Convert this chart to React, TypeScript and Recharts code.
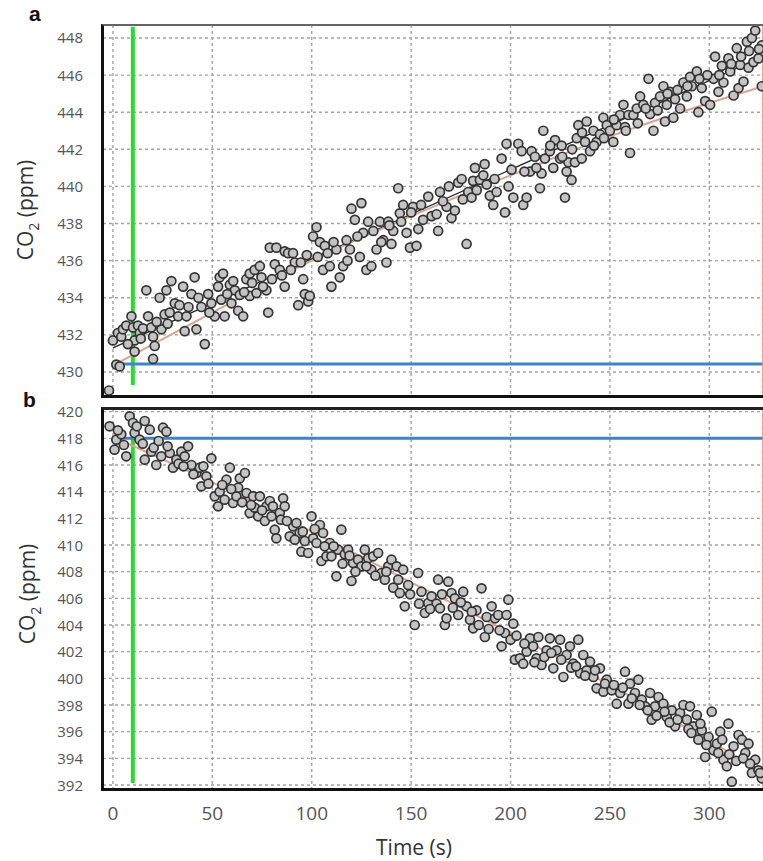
import React from 'react';
import { ComposedChart, Scatter, Line, XAxis, YAxis, CartesianGrid, ReferenceLine } from 'recharts';

const timeTicks = [0, 50, 100, 150, 200, 250, 300];
const ticksA = [430, 432, 434, 436, 438, 440, 442, 444, 446, 448];
const ticksB = [392, 394, 396, 398, 400, 402, 404, 406, 408, 410, 412, 414, 416, 418, 420];

// Panel a: measured CO2 (ppm) vs time (s)
const scatterA: number[][] = [
  [-2, 429.0], [0, 431.7], [1.7, 430.4], [2.5, 432.1], [3.4, 430.3], [4.2, 431.9], [5, 432.3], [6.7, 432.5],
  [9.3, 433.0], [10.1, 432.4], [10.9, 431.7], [10.9, 431.1], [12.6, 432.5], [13.5, 432.1], [15.1, 432.35],
  [16.8, 434.4], [17.7, 433.0], [19.3, 432.4], [20.2, 431.9], [21, 431.4], [20.2, 430.7], [23.5, 434.0],
  [24.4, 432.3], [26, 433.1], [26.9, 434.4], [29.4, 434.9], [28.6, 433.2], [31.1, 433.7], [32.8, 433.0],
  [35.3, 434.6], [36.1, 432.2], [37, 433.0], [39.5, 434.2], [41.1, 435.1], [42, 432.3], [44.5, 433.5],
  [46.2, 431.5], [47.9, 434.2], [49.5, 433.7], [51.2, 433.0], [52.9, 434.6], [53.7, 435.1], [55.4, 435.3],
  [56.2, 433.0], [58.8, 434.7], [59.6, 433.7], [61.3, 434.4], [63, 433.3], [63.8, 434.15], [65.5, 433.0],
  [67.1, 435.0], [68.8, 435.3], [68.8, 434.1], [71.3, 435.5], [72.2, 434.25], [73.9, 435.7], [74.7, 435.1],
  [77.2, 434.4], [78.1, 433.2], [78.9, 436.7], [81.4, 435.8], [82.2, 436.7], [83.9, 435.5], [86.4, 434.6],
  [86.4, 436.5], [88.1, 436.4], [90.6, 436.4], [91.5, 435.9], [93.2, 433.6], [95.7, 435.0], [96.5, 434.2],
  [98.2, 433.8], [99, 434.1], [100.7, 437.3], [102.4, 437.8], [104.1, 437.0], [105.7, 435.5], [106.6, 436.8],
  [109.1, 435.7], [109.9, 434.6], [112.4, 436.6], [114.1, 435.1], [115.8, 435.7], [117.5, 437.1], [119.2, 436.6],
  [120, 438.8], [121.7, 438.2], [124.2, 436.2], [125, 439.1], [125.9, 437.5], [127.5, 435.5], [128.4, 438.1],
  [130, 435.7], [132.6, 436.6], [134.3, 438.1], [136, 437.1], [137.6, 435.9], [138.5, 438.1], [140.1, 436.9],
  [141, 437.6], [143.5, 439.9], [144.3, 438.55], [146, 439.0], [147.7, 437.5], [149.4, 436.7], [151, 438.9],
  [152.7, 436.8], [153.6, 437.7], [156, 438.2], [158.6, 439.45], [160.3, 438.4],
  [162.8, 438.5], [163.6, 437.6], [164.5, 439.7], [167.8, 438.9], [170.3, 438.3], [172, 438.7], [173.7, 440.2],
  [175.4, 440.4], [177.9, 436.9], [178.7, 439.7], [180.4, 439.4], [181.2, 440.3], [182.1, 441.0], [184.6, 440.35],
  [186.3, 440.6], [188, 440.1], [189.6, 439.5], [191.3, 439.0], [193, 439.7], [195.5, 441.5], [197.2, 438.6],
  [198, 442.3], [200.5, 440.9], [201.4, 439.4], [203.9, 442.3], [205.6, 441.9], [206.4, 439.0], [208.1, 439.4],
  [209.8, 440.8], [210.6, 441.9], [212.3, 441.6], [214.8, 439.9], [215.6, 440.7], [216.5, 443.0], [217.3, 441.5],
  [219.8, 441.9], [221.5, 441.0], [222.4, 442.5], [224.9, 441.5], [225.7, 442.2], [227.4, 439.4], [228.2, 440.8],
  [229.1, 441.3], [230.7, 440.35], [232.4, 441.3], [233.3, 442.6], [234.1, 443.3], [235.8, 441.5], [237.5, 442.4],
  [238.3, 443.5], [240, 441.9], [241.7, 443.0], [243.3, 442.4], [245, 442.8], [246.7, 443.7], [248.4, 443.3],
  [250, 443.0], [251.7, 442.4], [253.4, 443.3], [255.1, 443.85], [256.8, 444.4], [257.6, 443.2], [259.3, 443.85],
  [260.1, 441.8], [261.8, 443.85], [263.5, 444.2], [265.2, 444.85], [266.8, 444.4], [269.4, 445.8], [270.2, 443.9],
  [271.9, 443.0], [272.7, 444.5], [275.2, 444.85], [276.9, 445.4], [277.7, 443.5], [278.6, 444.4], [280.3, 445.1],
  [281.9, 443.7], [282.8, 444.7], [285.3, 444.2], [287, 445.6], [288.7, 444.85], [290.3, 445.9], [291.2, 445.4],
  [293.7, 446.2], [294.5, 444.0], [296.2, 445.3], [297.9, 444.6], [300.4, 444.4], [302.1, 445.8], [302.9, 447.0],
  [304.6, 445.1], [306.3, 446.5], [307.1, 445.6], [309.6, 446.9], [310.5, 446.2], [312.2, 444.9], [313.8, 447.45],
  [314.7, 445.3], [315.5, 446.55], [317.2, 445.65], [318.9, 447.8], [319.7, 446.4], [321.4, 448.0], [322.2, 446.7],
  [323.1, 448.4], [324.7, 446.9], [326.4, 447.6], [326.4, 445.4],
  // overlapping points along the dense band
  [7.5, 431.5], [14, 431.8], [22, 432.7], [27.5, 432.6], [33.5, 433.6], [38, 433.5], [43, 434.0], [48.5, 433.2],
  [54.5, 433.9], [57.5, 434.2], [60.5, 434.9], [66, 434.3], [70, 434.8], [75.5, 434.6], [80, 435.0], [85, 435.2],
  [89.5, 435.5], [94.5, 435.9], [97.5, 436.3], [103, 436.2], [108, 436.4], [111, 437.0], [118, 436.0], [123, 437.3],
  [131, 437.6], [135, 437.0], [139, 437.9], [145, 438.1], [150, 438.6], [155, 439.0], [166, 439.2], [169, 440.0],
  [176, 439.3], [183, 439.8], [187, 441.2], [192, 440.4], [199, 440.0], [207, 440.8], [213, 441.0], [220, 442.2],
  [226, 441.6], [231, 442.0], [236, 442.9], [242, 442.2], [247, 442.6], [252, 443.6], [258, 443.0], [264, 443.4],
  [268, 444.2], [274, 444.1], [279, 445.0], [284, 445.2], [289, 445.4], [295, 445.8], [299, 446.0], [305, 446.0],
  [311, 446.6], [316, 447.0], [320, 447.3], [325, 447.4],
];

// Panel a: curved fit (orange) and straight fit (black)
const fitCurveA: number[][] = [[0, 430.35], [50, 433.2], [100, 436.0], [150, 438.4], [200, 440.6], [250, 442.7], [300, 444.5], [327, 445.4]];
const fitLinearA: number[][] = [[0, 431.3], [327, 447.0]];

// Panel b: measured CO2 (ppm) vs time (s)
const scatterB: number[][] = [
  [-1.7, 418.9], [0.8, 417.15], [1.7, 417.9], [4.2, 418.3], [6.7, 416.65], [8.4, 419.65], [10.1, 419.15],
  [10.9, 418.4], [13.4, 417.9], [16, 419.3], [16, 416.4], [18.5, 418.65], [19.3, 417.0], [21.8, 416.0],
  [24.3, 416.65], [25.2, 418.8], [26.9, 418.5], [28.6, 416.9], [30.2, 415.8], [31.9, 416.4], [34.4, 417.0],
  [36.1, 416.65], [37.8, 417.4], [39.5, 416.0], [42, 415.4], [43.7, 415.8], [44.5, 414.4], [47, 415.15],
  [49.5, 416.5], [51.2, 413.65], [52.9, 412.9], [53.7, 414.0], [56.2, 413.4], [57.1, 414.9], [58.8, 415.8],
  [60.4, 413.15], [62.1, 413.65], [63, 414.3], [63.8, 415.0], [66.4, 415.4], [67.2, 413.9], [68.8, 412.4],
  [70.5, 413.65], [71.3, 412.8], [73, 412.15], [73.9, 413.65], [76.4, 411.8], [77.2, 412.9], [78.9, 413.3],
  [79.8, 412.15], [81.4, 411.15], [82.2, 410.5], [83.9, 412.4], [85.6, 413.5], [86.4, 412.9], [88.9, 410.65],
  [90.6, 411.4], [92.3, 411.65], [93.9, 410.9], [94.8, 409.5], [96.5, 410.3], [98.2, 409.4], [99.9, 412.15],
  [100.7, 410.5], [102.4, 410.15], [104.1, 411.5], [104.9, 408.8], [105.7, 410.9], [107.4, 409.15], [109.1, 410.15],
  [109.9, 409.15], [112.4, 407.65], [113.3, 409.65], [114.9, 411.15], [116.6, 409.3], [118.3, 409.65], [120, 407.3],
  [120.8, 408.65], [123.3, 408.9], [125, 408.4], [126.7, 409.65], [128.4, 409.0], [130, 408.15], [130.9, 409.15],
  [133.4, 409.4], [135.1, 407.9], [136.8, 407.4], [138.5, 408.4], [140.1, 408.9], [141, 406.8], [142.7, 408.4],
  [144.3, 406.4], [146, 408.15], [146.8, 405.4], [148.5, 407.0], [151.8, 404.0], [153.5, 407.9], [155.2, 406.5],
  [156.9, 404.9], [158.6, 405.65], [160.3, 406.15],
  [162.8, 405.6], [163.6, 407.4], [164.5, 405.25], [167, 404.0], [167.8, 404.5], [168.7, 407.25], [170.3, 406.4],
  [172, 406.0], [173.7, 404.75], [176.2, 406.5], [177.9, 405.4], [179.6, 404.4], [181.2, 403.75], [182.9, 405.1],
  [185.4, 406.75], [187.1, 403.1], [188, 404.6], [190.5, 405.4], [192.2, 404.5], [193.8, 404.75], [195.5, 402.4],
  [197.2, 403.4], [198, 404.75], [198.9, 405.9], [201.4, 404.1], [202.2, 401.4], [204.7, 401.5], [206.4, 401.1],
  [208.1, 402.0], [209.8, 403.0], [211.4, 402.4], [213.1, 401.5], [214, 403.1], [215.6, 401.0], [218.2, 402.1],
  [219.8, 403.0], [221.5, 400.75], [223.2, 402.1], [224.9, 402.9], [226.6, 400.1], [228.2, 401.75], [229.9, 402.4],
  [231.6, 401.1], [234.1, 402.9], [235, 400.4], [236.6, 401.75], [238.3, 400.6], [240, 401.25], [241.7, 400.1],
  [243.3, 399.25], [245, 400.75], [246.7, 399.0], [248.4, 399.9], [250.9, 399.1], [253.4, 398.1], [255.1, 398.9],
  [257.6, 400.5], [259.3, 398.1], [260.1, 399.6], [262.6, 398.9], [264.3, 399.9], [266, 398.4], [267.7, 397.9],
  [270.2, 398.9], [271, 396.9], [272.7, 397.9], [274.4, 398.6], [276.9, 398.1], [278.6, 397.1], [281.1, 397.6],
  [282.8, 396.4], [285.3, 397.4], [287, 398.0], [288.7, 396.9], [290.3, 397.9], [292, 396.4], [293.7, 397.25],
  [294.5, 395.4], [296.2, 396.1], [297.9, 394.1], [299.6, 395.6], [301.2, 397.5], [302.1, 394.6], [303.8, 395.1],
  [305.5, 396.0], [307.1, 393.9], [308.8, 393.4], [309.6, 396.6], [311.3, 392.25], [312.2, 394.9], [314.7, 395.75],
  [316.4, 395.4], [318.1, 394.4], [319.7, 395.1], [321.4, 392.9], [323.1, 393.9], [324.7, 393.1], [326.4, 392.5],
  // overlapping points along the dense band
  [2.5, 418.6], [5.5, 417.5], [12, 418.9], [15, 417.6], [20.5, 417.3], [23, 417.8], [27.5, 417.4], [33, 416.1],
  [35.5, 415.9], [40.5, 415.3], [45.5, 415.9], [48, 414.6], [55, 414.5], [59.5, 414.2], [65, 413.2], [69.5, 413.0],
  [75, 412.6], [80.5, 412.9], [84.5, 411.9], [87.5, 411.8], [91.5, 410.4], [95.5, 411.0], [101.5, 411.2], [106.5, 409.9],
  [111, 409.9], [115.5, 408.6], [119, 409.2], [122, 408.0], [127.5, 408.4], [132, 407.7], [137.5, 408.0], [143.5, 407.4],
  [149.5, 406.3], [154, 405.6], [159.5, 405.2], [165.5, 406.3], [171, 405.3], [175, 405.7], [180.5, 405.0], [184, 404.0],
  [189, 403.7], [194.5, 403.6], [200, 402.9], [203, 403.2], [207, 402.6], [212, 401.2], [217, 401.6], [220.5, 401.9],
  [225.5, 401.4], [230.5, 400.8], [233, 400.9], [237.5, 400.2], [242.5, 400.6], [247.5, 399.6], [252, 399.5], [256.5, 399.3],
  [261, 398.5], [265, 398.0], [269, 397.6], [273.5, 397.2], [277.5, 397.5], [280, 396.7], [284, 396.9], [289.5, 396.2],
  [291, 395.9], [295.5, 396.6], [298.5, 395.0], [304.5, 394.4], [306.5, 395.4], [310, 394.3], [313.5, 393.8], [317, 394.0],
  [320.5, 393.6], [325.5, 392.9],
];

const fitCurveB: number[][] = [[0, 418.1], [50, 414.7], [100, 411.0], [150, 407.2], [200, 403.4], [250, 399.5], [300, 395.3], [327, 393.0]];

const toPts = (arr: number[][]) => arr.map(([t, v]) => ({ t, v }));

const FONT = '"Open Sans", "DejaVu Sans", sans-serif';

const Marker = (props: any) => {
  const { cx, cy } = props;
  if (cx == null || cy == null) return null;
  return <circle cx={cx} cy={cy} r={4.5} fill="#c4c4c4" stroke="#333" strokeWidth={1.7} />;
};

const YTick = (props: any) => {
  const { x, y, payload } = props;
  return (
    <text x={x} y={y} dy={5.5} textAnchor="end" fontSize={15} fill="#555" fontFamily={FONT}>
      {payload.value}
    </text>
  );
};

const XTick = (props: any) => {
  const { x, y, payload } = props;
  return (
    <text x={x} y={y} dy={31} textAnchor="middle" fontSize={19} fill="#555" fontFamily={FONT}>
      {payload.value}
    </text>
  );
};

const GRID = '#a3a3a3';
const ORANGE = '#dca48c';
const GREEN = '#2ed82e';
const BLUE = '#3d85c6';
const RED = '#f4907c';

export default function App() {
  const ptsA = toPts(scatterA);
  const ptsB = toPts(scatterB);
  return (
    <div style={{ position: 'absolute', left: 0, top: 0, width: 763, height: 861, background: '#fff', overflow: 'hidden', fontFamily: FONT }}>
      <div style={{ position: 'absolute', left: 0, top: 0 }}>
        <ComposedChart width={763} height={400} margin={{ top: 25, right: 0, bottom: 3, left: 0 }}>
          <CartesianGrid stroke={GRID} strokeDasharray="3 3" strokeWidth={1.4} />
          <XAxis type="number" dataKey="t" domain={[-5, 327]} ticks={timeTicks} allowDataOverflow hide />
          <YAxis type="number" dataKey="v" domain={[428.65, 448.7]} ticks={ticksA} allowDataOverflow interval={0}
            width={103} axisLine={false} tickLine={false} tickSize={0} tickMargin={20} tick={<YTick />} />
          <ReferenceLine segment={[{ x: 10, y: 429.3 }, { x: 10, y: 448.6 }]} stroke={GREEN} strokeWidth={4} />
          <ReferenceLine segment={[{ x: 1, y: 430.43 }, { x: 327, y: 430.43 }]} stroke={BLUE} strokeWidth={3} />
          <ReferenceLine x={327} stroke={RED} strokeWidth={1.5} />
          <Scatter data={ptsA} dataKey="v" shape={<Marker />} isAnimationActive={false} />
          <Line data={toPts(fitLinearA)} dataKey="v" type="linear" dot={false} stroke="#222" strokeWidth={1.3} isAnimationActive={false} />
          <Line data={toPts(fitCurveA)} dataKey="v" type="monotone" dot={false} stroke={ORANGE} strokeWidth={2} isAnimationActive={false} />
        </ComposedChart>
      </div>
      <div style={{ position: 'absolute', left: 0, top: 384 }}>
        <ComposedChart width={763} height={477} margin={{ top: 25, right: 0, bottom: 12, left: 0 }}>
          <CartesianGrid stroke={GRID} strokeDasharray="3 3" strokeWidth={1.4} />
          <XAxis type="number" dataKey="t" domain={[-5, 327]} ticks={timeTicks} allowDataOverflow interval={0}
            height={60} axisLine={false} tickLine={false} tickSize={0} tickMargin={0} tick={<XTick />} />
          <YAxis type="number" dataKey="v" domain={[391.7, 420.2]} ticks={ticksB} allowDataOverflow interval={0}
            width={103} axisLine={false} tickLine={false} tickSize={0} tickMargin={20} tick={<YTick />} />
          <ReferenceLine segment={[{ x: 10, y: 392.15 }, { x: 10, y: 419.9 }]} stroke={GREEN} strokeWidth={4} />
          <ReferenceLine segment={[{ x: 0, y: 418.0 }, { x: 327, y: 418.0 }]} stroke={BLUE} strokeWidth={3} />
          <ReferenceLine x={327} stroke={RED} strokeWidth={1.5} />
          <Scatter data={ptsB} dataKey="v" shape={<Marker />} isAnimationActive={false} />
          <Line data={toPts(fitCurveB)} dataKey="v" type="monotone" dot={false} stroke={ORANGE} strokeWidth={2} isAnimationActive={false} />
        </ComposedChart>
      </div>

      {/* panel frames */}
      <div style={{ position: 'absolute', left: 101, top: 24, width: 680, height: 374, boxSizing: 'border-box', borderLeft: '3px solid #111', borderTop: '2px solid #666', borderBottom: '3px solid #111', pointerEvents: 'none' }} />
      <div style={{ position: 'absolute', left: 101, top: 407, width: 680, height: 384, boxSizing: 'border-box', borderLeft: '3px solid #111', borderTop: '3px solid #222', borderBottom: '3px solid #111', pointerEvents: 'none' }} />

      {/* panel letters */}
      <div style={{ position: 'absolute', left: 29, top: 2, fontSize: 21, fontWeight: 'bold', color: '#111', fontFamily: '"Liberation Sans", Arial, sans-serif' }}>a</div>
      <div style={{ position: 'absolute', left: 23, top: 388, fontSize: 21, fontWeight: 'bold', color: '#111', fontFamily: '"Liberation Sans", Arial, sans-serif' }}>b</div>

      {/* axis titles */}
      <div style={{ position: 'absolute', left: 27, top: 210, transform: 'translate(-50%, -50%) rotate(-90deg)', whiteSpace: 'nowrap', fontSize: 21, color: '#333' }}>
        CO<sub style={{ fontSize: 14 }}>2</sub> (ppm)
      </div>
      <div style={{ position: 'absolute', left: 29, top: 594, transform: 'translate(-50%, -50%) rotate(-90deg)', whiteSpace: 'nowrap', fontSize: 21, color: '#333' }}>
        CO<sub style={{ fontSize: 14 }}>2</sub> (ppm)
      </div>
      <div style={{ position: 'absolute', left: 414, top: 847, transform: 'translate(-50%, -50%)', whiteSpace: 'nowrap', fontSize: 21, color: '#333' }}>
        Time (s)
      </div>
    </div>
  );
}
